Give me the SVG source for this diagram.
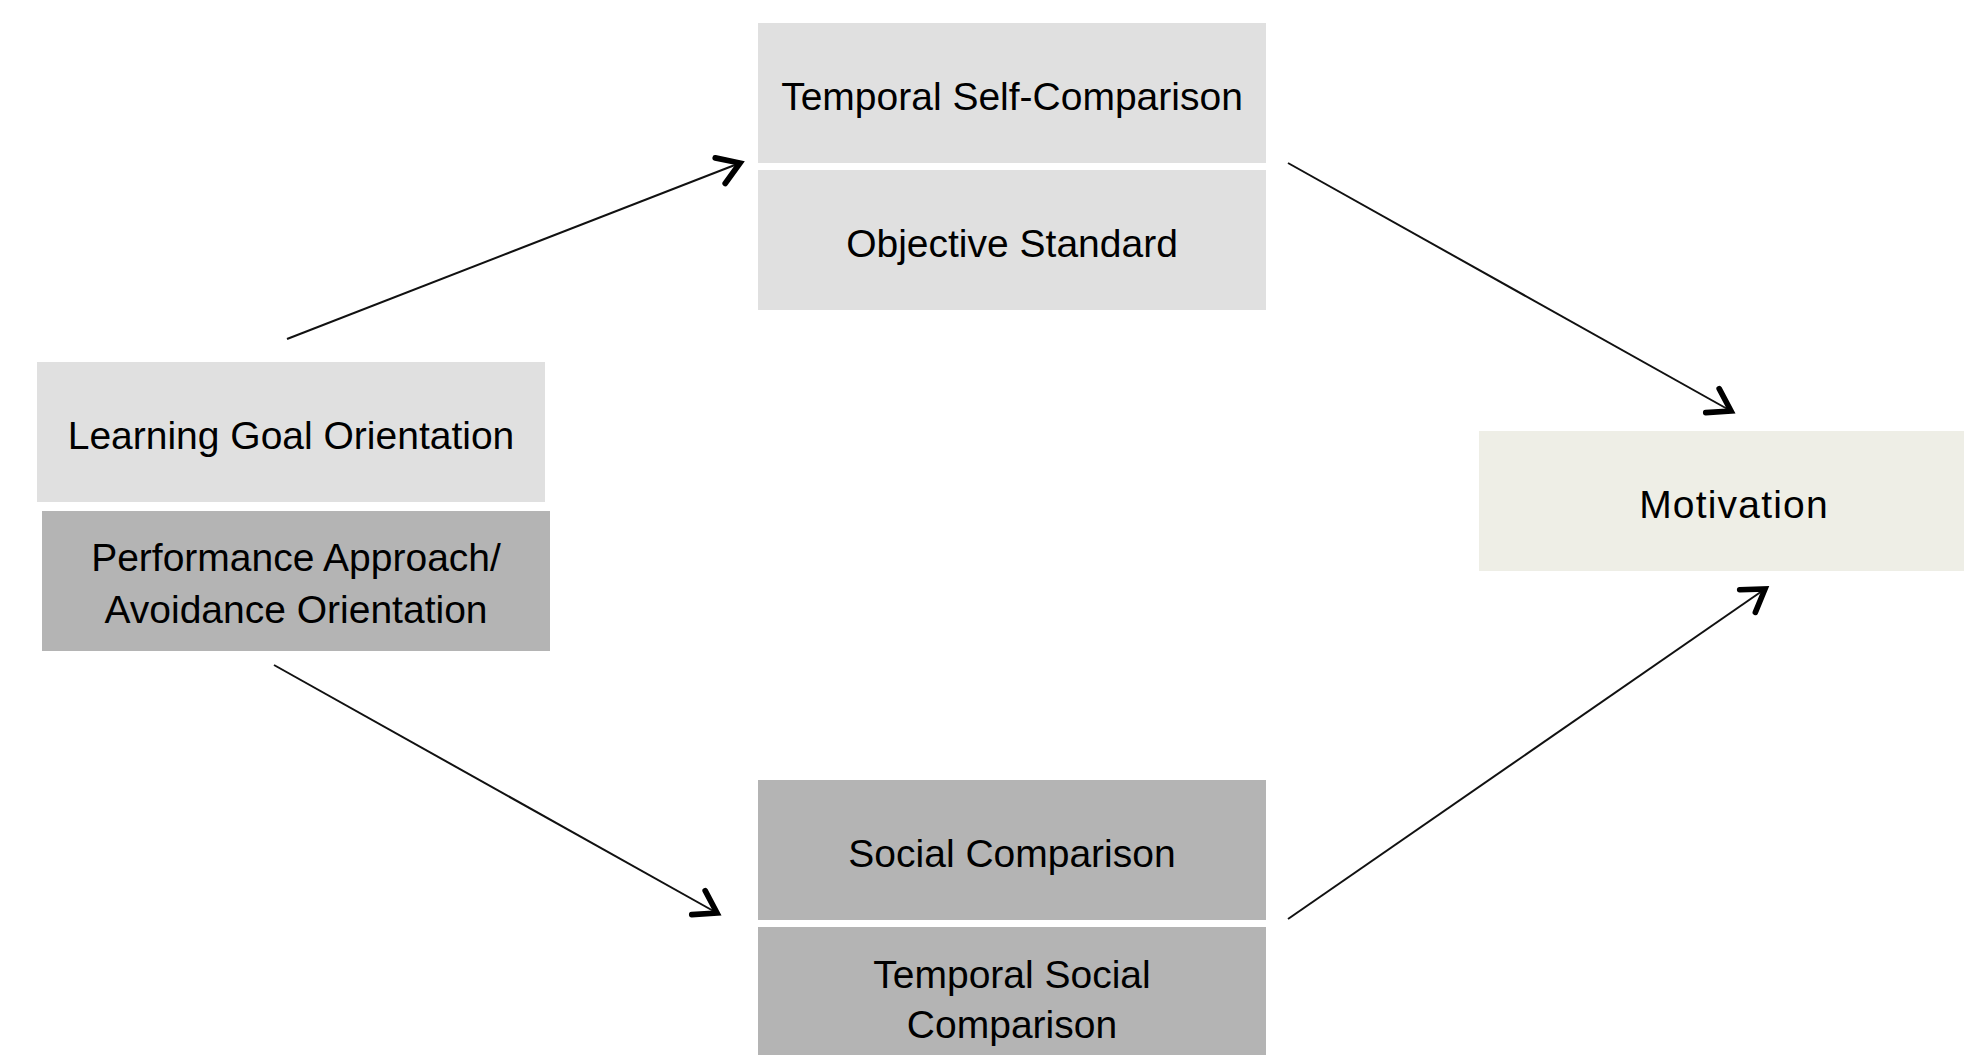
<svg xmlns="http://www.w3.org/2000/svg" width="1964" height="1055" viewBox="0 0 1964 1055">
  <style>
    .light { fill: #e0e0e0; }
    .dark { fill: #b4b4b4; }
    .pale { fill: #eeeee6; }
    .label { font-family: "Liberation Sans", Arial, sans-serif; font-size: 39px; fill: #000; text-anchor: middle; }
    .edge { stroke: #111; stroke-width: 2; fill: none; marker-end: url(#head); }
  </style>
  <defs>
    <marker id="head" markerUnits="userSpaceOnUse" markerWidth="40" markerHeight="40" viewBox="-24 -16 30 32" refX="0" refY="0" orient="auto">
      <path d="M-17,-11 L0,0 L-17,11" fill="none" stroke="#000" stroke-width="4.5" stroke-linecap="round" stroke-linejoin="miter"/>
    </marker>
  </defs>
  <rect width="1964" height="1055" fill="#fff"/>

  <g id="temporal-self-comparison">
    <rect class="light" x="758" y="23" width="508" height="140"/>
    <text class="label" x="1012" y="110">Temporal Self-Comparison</text>
  </g>
  <g id="objective-standard">
    <rect class="light" x="758" y="170" width="508" height="140"/>
    <text class="label" x="1012" y="257">Objective Standard</text>
  </g>
  <g id="learning-goal-orientation">
    <rect class="light" x="37" y="362" width="508" height="140"/>
    <text class="label" x="291" y="449">Learning Goal Orientation</text>
  </g>
  <g id="performance-orientation">
    <rect class="dark" x="42" y="511" width="508" height="140"/>
    <text class="label" x="296" y="571">Performance Approach/</text>
    <text class="label" x="296" y="623">Avoidance Orientation</text>
  </g>
  <g id="social-comparison">
    <rect class="dark" x="758" y="780" width="508" height="140"/>
    <text class="label" x="1012" y="867">Social Comparison</text>
  </g>
  <g id="temporal-social-comparison">
    <rect class="dark" x="758" y="927" width="508" height="140"/>
    <text class="label" x="1012" y="988">Temporal Social</text>
    <text class="label" x="1012" y="1038">Comparison</text>
  </g>
  <g id="motivation">
    <rect class="pale" x="1479" y="431" width="510" height="140"/>
    <text class="label" x="1734" y="518" letter-spacing="1.2">Motivation</text>
  </g>

  <g id="connectors">
    <line class="edge" x1="287" y1="339" x2="740" y2="163"/>
    <line class="edge" x1="1288" y1="163" x2="1731" y2="411"/>
    <line class="edge" x1="274" y1="665" x2="717" y2="913"/>
    <line class="edge" x1="1288" y1="919" x2="1765" y2="589"/>
  </g>
</svg>
